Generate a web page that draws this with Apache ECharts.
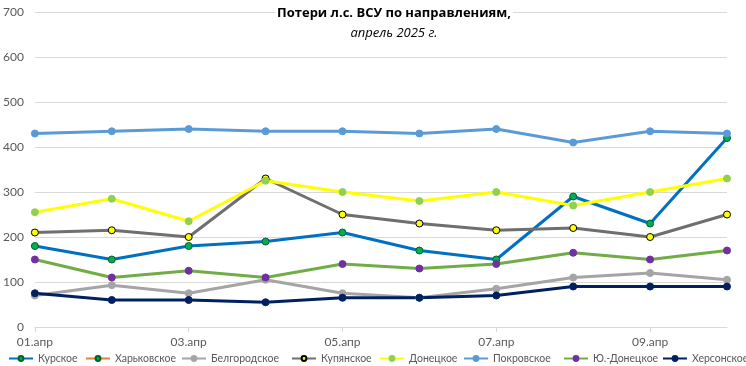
<!DOCTYPE html>
<html>
<head>
<meta charset="utf-8">
<script src="https://cdn.jsdelivr.net/npm/echarts@6/dist/echarts.min.js"></script>
<style>
html,body{margin:0;padding:0;background:#fff;}
#c{width:746px;height:366px;}
</style>
</head>
<body>
<div id="c"></div>
<script>
const categories = ['01.апр','02.апр','03.апр','04.апр','05.апр','06.апр','07.апр','08.апр','09.апр','10.апр'];
const seriesNames = ['Курское','Харьковское','Белгородское','Купянское','Донецкое','Покровское','Ю.-Донецкое','Херсонское'];
const kursk      = [180,150,180,190,210,170,150,290,230,420];
const kharkiv    = [null,null,null,null,null,null,null,null,null,null];
const belgorod   = [70,93,75,105,75,65,85,110,120,105];
const kupyansk   = [210,215,200,330,250,230,215,220,200,250];
const donetsk    = [255,285,235,325,300,280,300,270,300,330];
const pokrovsk   = [430,435,440,435,435,430,440,410,435,430];
const yuDonetsk  = [150,110,125,110,140,130,140,165,150,170];
const kherson    = [75,60,60,55,65,65,70,90,90,90];
const yTicks     = [0,100,200,300,400,500,600,700];

const FONT = 'Lato';
const legendLeft = [3,80,176,286,374,458,558,657];
function mk(name, data, line, mFill, mBorder){
  return {
    name, type:'line', data,
    symbol:'circle', symbolSize:7,
    lineStyle:{color:line,width:3},
    itemStyle:{color:mFill,borderColor:mBorder,borderWidth:1},
    color:line,
    emphasis:{disabled:true}
  };
}
const chart = echarts.init(document.getElementById('c'));
chart.setOption({
  animation:false,
  backgroundColor:'#fff',
  textStyle:{fontFamily:FONT},
  title:{
    text:'Потери л.с. ВСУ по направлениям,',
    subtext:'апрель 2025 г.',
    left:392, top:7, textAlign:'center',
    padding:[0,2,0,2],
    itemGap:7,
    backgroundColor:'#fff',
    textStyle:{fontFamily:'Open Sans',fontSize:13,fontWeight:'bold',color:'#000'},
    subtextStyle:{fontFamily:'Open Sans',fontSize:13,fontStyle:'italic',color:'#000'}
  },
  grid:{left:28,right:19,top:12,bottom:39,containLabel:false},
  legend: seriesNames.map((n,i)=>({
    top:348,left:legendLeft[i],
    itemWidth:24,itemHeight:6,itemGap:0,
    textStyle:{fontFamily:FONT,fontSize:10.5,color:'#595959'},
    data:[n]
  })),
  xAxis:{
    type:'category', data:categories, boundaryGap:false,
    axisLine:{lineStyle:{color:'#D9D9D9',width:1}},
    axisTick:{show:true,interval:1,length:5,lineStyle:{color:'#D9D9D9'}},
    axisLabel:{interval:1,color:'#595959',fontSize:12,fontFamily:FONT,margin:9},
    splitLine:{show:false}
  },
  yAxis:{
    type:'value', min:yTicks[0], max:yTicks[yTicks.length-1], interval:100,
    axisLine:{show:false}, axisTick:{show:false},
    axisLabel:{color:'#595959',fontSize:12,fontFamily:FONT,margin:11},
    splitLine:{lineStyle:{color:'#D9D9D9',width:1}}
  },
  series:[
    mk(seriesNames[0],kursk,'#0070C0','#00B050','#006030'),
    mk(seriesNames[1],kharkiv,'#ED7D31','#00B050','#006030'),
    mk(seriesNames[2],belgorod,'#A5A5A5','#A5A5A5','#A5A5A5'),
    mk(seriesNames[3],kupyansk,'#6F6F6F','#FFFF00','#000000'),
    mk(seriesNames[4],donetsk,'#FFFF00','#92D050','#92D050'),
    mk(seriesNames[5],pokrovsk,'#5B9BD5','#5B9BD5','#5B9BD5'),
    mk(seriesNames[6],yuDonetsk,'#70AD47','#7030A0','#7030A0'),
    mk(seriesNames[7],kherson,'#002060','#002060','#002060')
  ]
});
</script>
</body>
</html>
